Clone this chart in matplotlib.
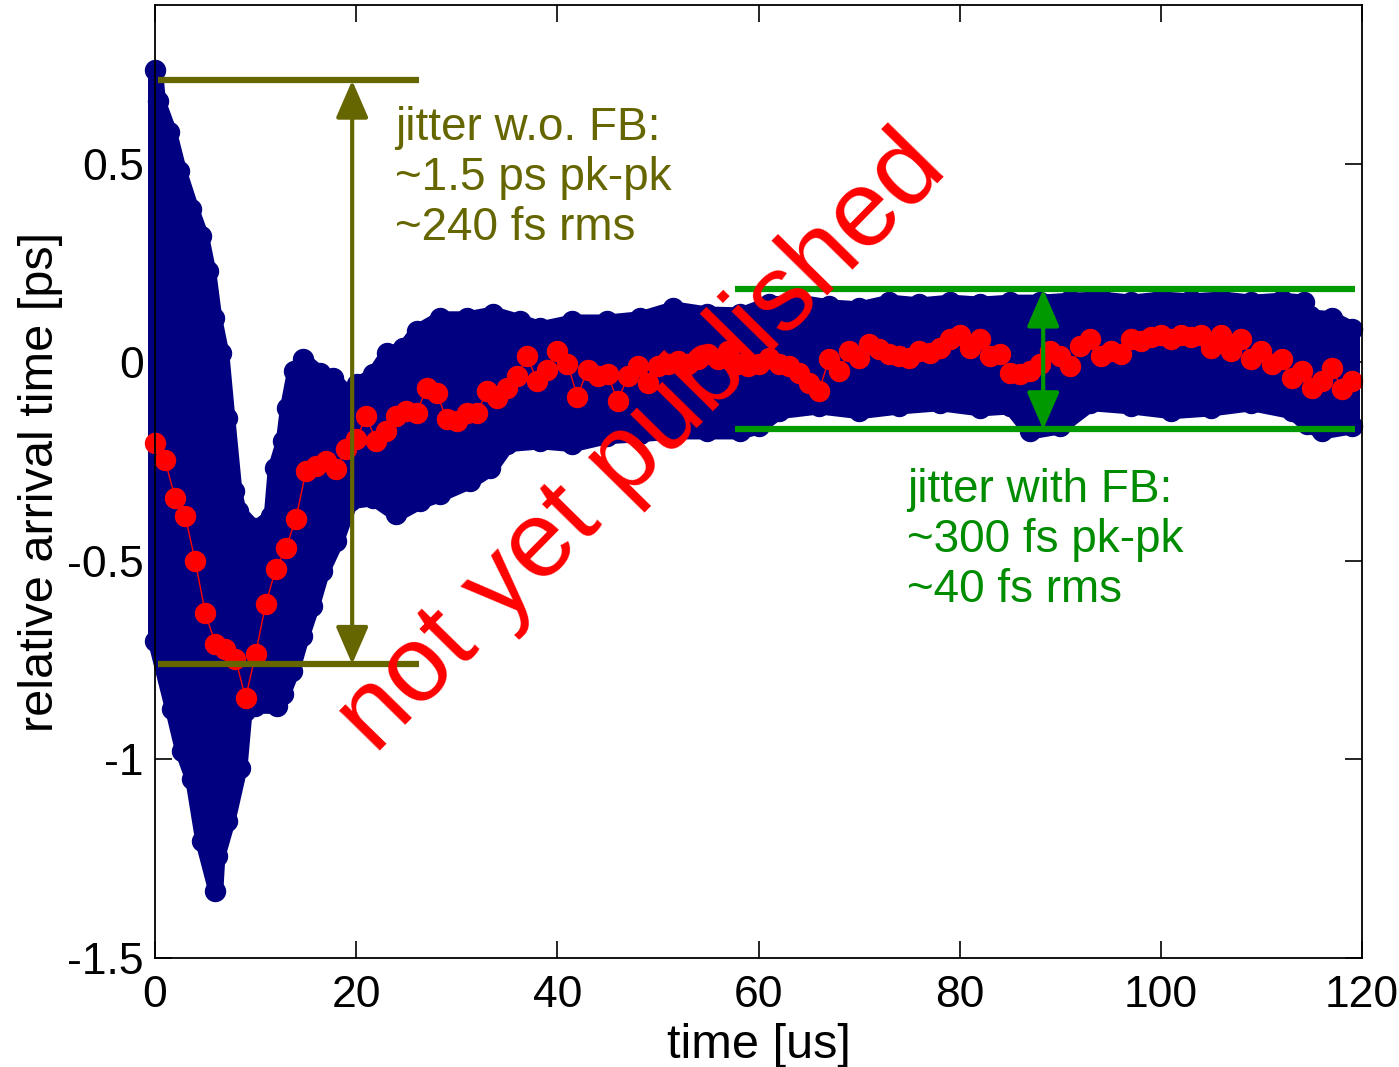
import matplotlib
matplotlib.use("Agg")
import matplotlib.pyplot as plt
import numpy as np

plt.rcParams['font.family'] = ['Liberation Sans', 'DejaVu Sans']

# bunch-averaged arrival time, one value per microsecond
mean_time_us = list(range(0, 120))
mean_arrival_ps = [
    -0.204, -0.247, -0.342, -0.387, -0.501, -0.631, -0.709, -0.722, -0.747, -0.845,
    -0.735, -0.609, -0.521, -0.468, -0.395, -0.274, -0.262, -0.249, -0.269, -0.219,
    -0.194, -0.136, -0.199, -0.174, -0.136, -0.123, -0.128, -0.065, -0.078, -0.143,
    -0.148, -0.128, -0.128, -0.073, -0.091, -0.065, -0.035, 0.015, -0.048, -0.018,
    0.028, -0.003, -0.086, -0.018, -0.035, -0.030, -0.098, -0.035, -0.010, -0.053,
    -0.010, -0.005, 0.003, -0.005, 0.008, 0.020, 0.008, 0.028, -0.005, -0.010,
    -0.005, 0.010, -0.005, -0.010, -0.028, -0.053, -0.073, 0.008, -0.023, 0.028,
    0.010, 0.045, 0.033, 0.020, 0.015, 0.010, 0.028, 0.023, 0.035, 0.060,
    0.070, 0.035, 0.060, 0.015, 0.020, -0.028, -0.030, -0.023, -0.005, 0.028,
    0.015, -0.010, 0.040, 0.058, 0.015, 0.028, 0.020, 0.060, 0.053, 0.065,
    0.070, 0.060, 0.070, 0.065, 0.070, 0.035, 0.070, 0.028, 0.060, 0.008,
    0.028, -0.005, 0.008, -0.040, -0.023, -0.065, -0.048, -0.015, -0.068, -0.048,
]

# spread of the single-shot arrival times (centres of the outermost shots)
upper_time_us = [0, 0.3, 1.4, 2.4, 3.6, 4.6, 5.3, 5.9, 6.6, 7.2, 7.9, 8.3, 9.9, 11.5,
                 11.9, 12.7, 13.1, 13.8, 14.7, 16.4, 17.7, 19.4, 20.1, 21.7, 23.1,
                 24.7, 26, 28.3, 31, 33.6, 36.3, 38.3, 41.5, 44.9, 48.2, 51.5, 54.9, 58.2,
                 61, 64, 67, 70, 73, 76, 79, 82, 85, 88, 91, 94, 97, 100, 103, 106, 109,
                 112, 114.2, 114.8, 117, 119]
upper_arrival_ps = [0.737, 0.657, 0.581, 0.481, 0.387, 0.317, 0.229, 0.111, 0.023, -0.141,
                    -0.325, -0.375, -0.418, -0.387, -0.267, -0.199, -0.116, -0.023, 0.008,
                    -0.028, -0.040, -0.086, -0.055, -0.030, 0.023,
                    0.035, 0.078, 0.111, 0.111, 0.123, 0.103, 0.086, 0.103, 0.103, 0.111,
                    0.136, 0.123, 0.121, 0.148, 0.153, 0.141, 0.136, 0.153, 0.146, 0.153,
                    0.148, 0.153, 0.153, 0.158, 0.161, 0.153, 0.161, 0.156, 0.161, 0.153,
                    0.158, 0.153, 0.116, 0.111, 0.085]
lower_time_us = [0, 1.7, 2.7, 3.7, 4.7, 6.0, 6.2, 7.2, 8.4, 8.9, 9.9, 12.1, 12.7, 13.6,
                 14.6, 15.6, 16.6, 18.0, 19.4, 21.7, 24, 26.3, 28.3, 31.3, 33.3, 35,
                 38.3, 41.5, 44.9, 48.2, 51.5, 54.9, 58.2, 60, 62, 66, 70, 74, 78, 82, 85,
                 87, 90, 93, 97, 101, 105, 109, 113, 114.5, 116, 119]
lower_arrival_ps = [-0.702, -0.873, -0.979, -1.049, -1.205, -1.331, -1.243, -1.155, -1.021,
                    -0.878, -0.865, -0.865, -0.835, -0.777, -0.689, -0.613, -0.526, -0.450,
                    -0.350, -0.342, -0.382, -0.350, -0.332, -0.299, -0.267, -0.206,
                    -0.199, -0.206, -0.186, -0.181, -0.174, -0.174, -0.174, -0.161, -0.123,
                    -0.111, -0.123, -0.111, -0.103, -0.116, -0.111, -0.174, -0.161, -0.103,
                    -0.111, -0.123, -0.116, -0.103, -0.123, -0.156, -0.174, -0.161]

# jitter markers: without feedback (first ~26 us) and with feedback
nofb_limits_ps = [0.71, -0.76]
nofb_span_us = [0.3, 26.2]
nofb_arrow_us = 19.6
fb_limits_ps = [0.184, -0.169]
fb_span_us = [57.7, 119.3]
fb_arrow_us = 88.3

xticks = [0, 20, 40, 60, 80, 100, 120]
yticks = [-1.5, -1, -0.5, 0, 0.5]
ytick_labels = ['-1.5', '-1', '-0.5', '0', '0.5']

NAVY = '#000080'
OLIVE = '#666600'
GREEN = '#009a00'
GREEN_TXT = '#008c00'
SHOT_PT = 14.4  # shot marker diameter in points

fig = plt.figure(figsize=(13.99, 10.67), dpi=100)
ax = fig.add_axes([0.1108, 0.1022, 0.8628, 0.8931])

# single-shot spread: band between the outermost shot centres, outlined
# with a stroke, plus the outermost shots themselves
xu = np.array(upper_time_us)
yu = np.array(upper_arrival_ps)
xl = np.array(lower_time_us)
yl = np.array(lower_arrival_ps)
grid = np.union1d(xu, xl)
ax.fill_between(grid, np.interp(grid, xl, yl), np.interp(grid, xu, yu),
                facecolor=NAVY, edgecolor=NAVY, linewidth=SHOT_PT * 0.75,
                joinstyle='round', clip_on=False, zorder=2)
for xs, ys in ((xu, yu), (xl, yl)):
    ax.plot(xs, ys, 'o', color=NAVY, mec=NAVY, ms=SHOT_PT, clip_on=False, zorder=2)

# averaged arrival time
ax.plot(mean_time_us, mean_arrival_ps, '-', color='red', lw=1.0, zorder=3)
ax.plot(mean_time_us, mean_arrival_ps, 'o', color='red', ms=SHOT_PT, mec='red',
        clip_on=False, zorder=3)

def jitter_marker(limits, span, ax_x, color):
    for yv in limits:
        ax.plot(span, [yv, yv], color=color, lw=4.5, solid_capstyle='butt', zorder=4)
    ax.annotate('', xy=(ax_x, limits[0]), xytext=(ax_x, limits[1]),
                arrowprops=dict(arrowstyle='<|-|>,head_length=1.15,head_width=0.5',
                                color=color, lw=3.0, mutation_scale=20,
                                shrinkA=0, shrinkB=0),
                zorder=4)

jitter_marker(nofb_limits_ps, nofb_span_us, nofb_arrow_us, OLIVE)
jitter_marker(fb_limits_ps, fb_span_us, fb_arrow_us, GREEN)

ax.text(23.9, 0.645, 'jitter w.o. FB:\n~1.5 ps pk-pk\n~240 fs rms', color=OLIVE,
        fontsize=33, ha='left', va='top', linespacing=1.17, zorder=5)
ax.text(74.8, -0.267, 'jitter with FB:\n~300 fs pk-pk\n~40 fs rms', color=GREEN_TXT,
        fontsize=33, ha='left', va='top', linespacing=1.17, zorder=5)

ax.text(48.4, -0.205, 'not yet published', color='red', fontsize=78,
        rotation=45.5, rotation_mode='anchor', ha='center', va='center', zorder=6)

ax.set_xlim(0, 120)
ax.set_ylim(-1.5, 0.9)
ax.set_xticks(xticks)
ax.set_yticks(yticks)
ax.set_yticklabels(ytick_labels)
ax.tick_params(direction='in', length=12, width=1.2, top=True, right=True,
               labelsize=32, colors='black')
ax.tick_params(axis='x', pad=12)
ax.tick_params(axis='y', pad=8)
for sp in ax.spines.values():
    sp.set_linewidth(1.3)
    sp.set_zorder(7)

ax.set_xlabel('time [us]', fontsize=35, labelpad=5)
ax.set_ylabel('relative arrival time [ps]', fontsize=35, labelpad=3)

fig.savefig('out.png', dpi=100)
